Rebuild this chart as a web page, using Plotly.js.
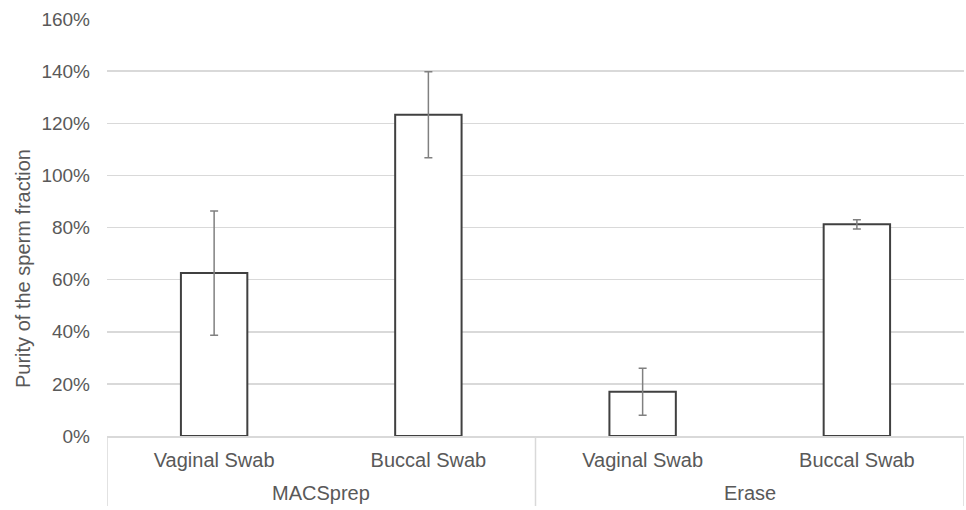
<!DOCTYPE html>
<html>
<head>
<meta charset="utf-8">
<script src="https://cdn.plot.ly/plotly-3.0.1.min.js"></script>
<style>html,body{margin:0;padding:0;background:#fff;}#chart{width:966px;height:510px;}</style>
</head>
<body>
<div id="chart"></div>
<script>
const methods = ["MACSprep", "MACSprep", "Erase", "Erase"];
const samples = ["Vaginal Swab", "Buccal Swab", "Vaginal Swab", "Buccal Swab"];
const purity = [0.625, 1.233, 0.170, 0.812];
const errors = [0.238, 0.165, 0.090, 0.018];
const yTickVals = [0, 0.2, 0.4, 0.6, 0.8, 1.0, 1.2, 1.4, 1.6];
const yTitle = "Purity of the sperm fraction";

// unique category keys (one per bar) built from the two label levels
const keys = methods.map((m, i) => m + " / " + samples[i]);

// group spans by method
const groups = [];
methods.forEach((m, i) => {
  const last = groups[groups.length - 1];
  if (last && last.name === m) last.end = i; else groups.push({name: m, start: i, end: i});
});

const PLOT_H = 510 - 19 - 74;
const gray = "#d9d9d9";
const textCol = "#595959";

const trace = {
  type: "bar",
  x: keys,
  y: purity,
  width: 0.31,
  marker: {color: "#ffffff", line: {color: "#404040", width: 2}},
  error_y: {type: "data", array: errors, visible: true, color: "#808080", thickness: 1.5, width: 4},
  hoverinfo: "skip"
};

const annotations = groups.map(g => ({
  xref: "x", yref: "paper",
  x: (g.start + g.end) / 2, y: -57 / PLOT_H,
  xanchor: "center", yanchor: "middle",
  text: g.name, showarrow: false,
  font: {size: 20, color: textCol}
}));
annotations.push({
  xref: "paper", yref: "paper",
  x: (23 - 107) / 857, y: (436 - 269) / PLOT_H,
  xanchor: "center", yanchor: "middle",
  text: yTitle, textangle: -90, showarrow: false,
  font: {size: 20, color: textCol}
});

// dividers at group boundaries
const bounds = [groups[0].start - 0.5].concat(groups.map(g => g.end + 0.5));
const shapes = bounds.map(b => ({
  type: "line", xref: "x", yref: "paper",
  x0: b, x1: b, y0: 0, y1: -70 / PLOT_H,
  line: {color: gray, width: 1.5}
}));

const layout = {
  width: 966, height: 510,
  margin: {l: 107, r: 2, t: 19, b: 74},
  paper_bgcolor: "#ffffff", plot_bgcolor: "#ffffff",
  font: {family: "Liberation Sans, Arial, sans-serif", size: 19, color: textCol},
  showlegend: false,
  xaxis: {
    type: "category",
    range: [-0.5, keys.length - 0.5],
    tickvals: keys, ticktext: samples,
    showline: true, linecolor: gray, linewidth: 1.5,
    showgrid: false, ticks: "", ticklabelstandoff: 5,
    tickfont: {size: 20, color: textCol}
  },
  yaxis: {
    range: [0, 1.6],
    tickvals: yTickVals,
    tickformat: ".0%",
    showgrid: true, gridcolor: gray, gridwidth: 1.5,
    zeroline: false, showline: false, ticks: "",
    ticklabelstandoff: 16,
    tickfont: {size: 19, color: textCol}
  },
  annotations: annotations,
  shapes: shapes
};

Plotly.newPlot("chart", [trace], layout, {staticPlot: true, displayModeBar: false});
</script>
</body>
</html>
